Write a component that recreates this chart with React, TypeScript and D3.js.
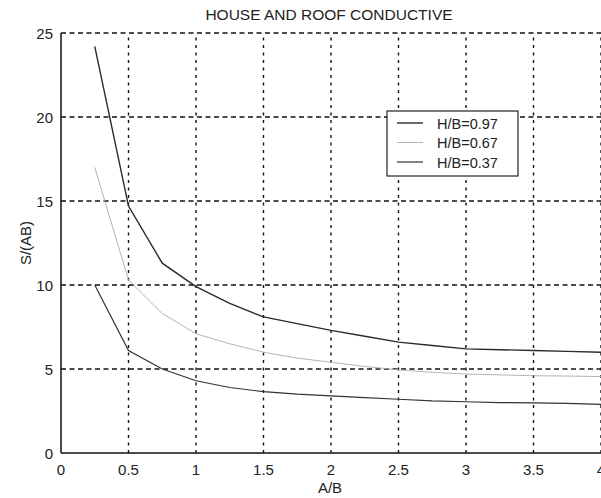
import React from "react";
import * as d3 from "d3";

const xValues = [0.25, 0.5, 0.75, 1.0, 1.25, 1.5, 1.75, 2.0, 2.25, 2.5, 2.75, 3.0, 3.25, 3.5, 3.75, 4.0];
const seriesHB097 = [24.2, 14.7, 11.3, 9.9, 8.9, 8.1, 7.7, 7.3, 6.95, 6.6, 6.4, 6.2, 6.15, 6.1, 6.05, 6.0];
const seriesHB067 = [17.0, 10.3, 8.3, 7.1, 6.5, 6.0, 5.65, 5.4, 5.15, 4.95, 4.8, 4.7, 4.65, 4.6, 4.58, 4.55];
const seriesHB037 = [10.0, 6.1, 5.0, 4.3, 3.9, 3.65, 3.5, 3.4, 3.3, 3.2, 3.1, 3.05, 3.0, 2.98, 2.95, 2.9];
const seriesNames = ["H/B=0.97", "H/B=0.67", "H/B=0.37"];
const xTicks = [0, 0.5, 1, 1.5, 2, 2.5, 3, 3.5, 4];
const xTickLabels = ["0", "0.5", "1", "1.5", "2", "2.5", "3", "3.5", "4"];
const yTicks = [0, 5, 10, 15, 20, 25];
const yTickLabels = ["0", "5", "10", "15", "20", "25"];

const W = 601;
const H = 498;
const M = { left: 61, right: 0, top: 33, bottom: 45 };

export default function App() {
  const x = d3.scaleLinear().domain([0, 4]).range([M.left, W - M.right]);
  const y = d3.scaleLinear().domain([0, 25]).range([H - M.bottom, M.top]);
  const line = d3
    .line<number>()
    .x((_, i) => x(xValues[i]))
    .y((d) => y(d));
  const series = [
    { name: seriesNames[0], data: seriesHB097, color: "#2a2a2a", width: 1.4 },
    { name: seriesNames[1], data: seriesHB067, color: "#aaaaaa", width: 0.9 },
    { name: seriesNames[2], data: seriesHB037, color: "#333333", width: 1.2 },
  ];
  const font = "Arial, 'Liberation Sans', sans-serif";
  const lgX = 387, lgY = 111, lgW = 131, lgH = 65;
  const fs = 15;
  return (
    <svg
      width={W}
      height={H}
      style={{ position: "absolute", left: 0, top: 0, background: "#fff" }}
      fontFamily={font}
    >
      <rect x={0} y={0} width={W} height={H} fill="#fff" />
      {/* grid */}
      {xTicks.slice(1).map((t) => (
        <line key={"gx" + t} x1={x(t)} x2={x(t)} y1={y(0)} y2={y(25)} stroke="#111" strokeWidth={1.4} strokeDasharray="3,4.5" />
      ))}
      {yTicks.slice(1).map((t) => (
        <line key={"gy" + t} x1={x(0)} x2={x(4)} y1={y(t)} y2={y(t)} stroke="#111" strokeWidth={1.4} strokeDasharray="5,3.5" />
      ))}
      {/* axes */}
      <line x1={x(0)} x2={x(0)} y1={y(0)} y2={y(25)} stroke="#111" strokeWidth={1.5} />
      <line x1={x(0)} x2={x(4)} y1={y(0)} y2={y(0)} stroke="#111" strokeWidth={1.5} />
      {/* curves */}
      {series.map((s) => (
        <path key={s.name} d={line(s.data) || ""} fill="none" stroke={s.color} strokeWidth={s.width} />
      ))}
      {/* tick labels */}
      {xTicks.map((t, i) => (
        <text key={"xl" + t} x={x(t)} y={y(0) + 22} textAnchor="middle" fontSize={fs} fill="#222">
          {xTickLabels[i]}
        </text>
      ))}
      {yTicks.map((t, i) => (
        <text key={"yl" + t} x={x(0) - 8} y={y(t) + 5.5} textAnchor="end" fontSize={fs} fill="#222">
          {yTickLabels[i]}
        </text>
      ))}
      {/* labels */}
      <text x={329} y={20} textAnchor="middle" fontSize={15.5} fill="#222">
        HOUSE AND ROOF CONDUCTIVE
      </text>
      <text x={330} y={493} textAnchor="middle" fontSize={fs} fill="#222">
        A/B
      </text>
      <text transform={`translate(31,${(y(0) + y(25)) / 2}) rotate(-90)`} textAnchor="middle" fontSize={fs} fill="#222">
        S/(AB)
      </text>
      {/* legend */}
      <rect x={lgX} y={lgY} width={lgW} height={lgH} fill="#fff" stroke="#222" strokeWidth={1.2} />
      {series.map((s, i) => (
        <g key={"lg" + s.name}>
          <line x1={lgX + 10} x2={lgX + 36} y1={lgY + 12 + i * 19.5} y2={lgY + 12 + i * 19.5} stroke={s.color} strokeWidth={s.width} />
          <text x={lgX + 50} y={lgY + 17.5 + i * 19.5} fontSize={14.5} fill="#222">
            {s.name}
          </text>
        </g>
      ))}
    </svg>
  );
}
